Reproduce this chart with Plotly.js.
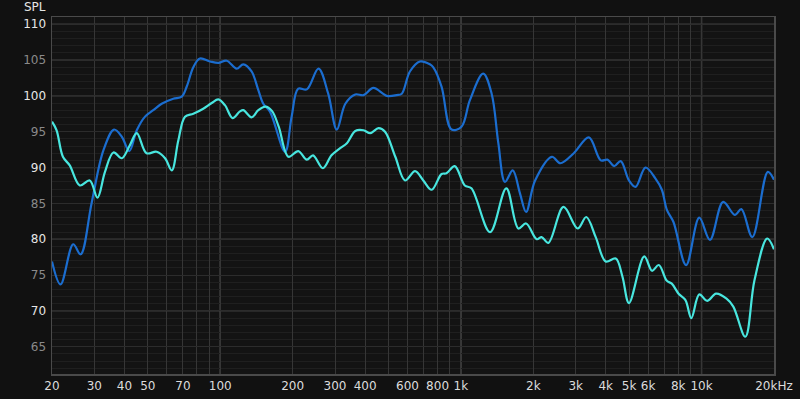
<!DOCTYPE html>
<html>
<head>
<meta charset="utf-8">
<script src="https://cdn.plot.ly/plotly-3.0.1.min.js"></script>
<style>
html,body{margin:0;padding:0;background:#111111;}
#chart{width:800px;height:399px;}
</style>
</head>
<body>
<div id="chart"></div>
<script>
// ---- data ----
var blueFreq = [20, 21.7, 24.5, 26.3, 29.2, 32.7, 36.2, 39, 41.9, 45, 48.7, 52.7, 57.1, 63.8, 69.2, 72.6, 77.3, 82.3, 90.7, 98.2, 106.4, 117, 124.7, 135, 144, 151, 161, 186, 198, 211, 229, 256, 281, 305, 331, 364, 394, 433, 492, 541, 568, 614, 676, 743, 767, 831, 914, 1006, 1090, 1238, 1342, 1431, 1525, 1642, 1760, 1866, 2034, 2388, 2590, 2945, 3402, 3812, 4064, 4333, 4615, 4992, 5318, 5846, 6426, 6840, 7176, 7644, 8626, 9784, 10832, 12296, 13746, 14640, 16250, 18852, 20000];
var blueSPL = [76.9, 73.7, 79.3, 77.9, 85.0, 92.4, 95.3, 94.3, 92.3, 95.2, 97.1, 98.0, 98.9, 99.6, 99.9, 101.3, 104.0, 105.2, 104.8, 104.6, 104.9, 103.8, 104.4, 103.4, 100.8, 98.9, 97.8, 92.2, 97.1, 101.0, 100.9, 103.8, 100.3, 95.3, 98.9, 100.2, 100.1, 101.1, 100.0, 100.1, 100.3, 103.4, 104.8, 104.4, 104.0, 101.3, 95.3, 95.7, 99.4, 103.1, 100.3, 93.4, 88.0, 89.6, 86.4, 83.8, 88.2, 91.5, 90.6, 92.0, 94.2, 91.0, 91.1, 90.2, 90.9, 88.2, 87.3, 90.0, 88.5, 86.9, 84.1, 82.4, 76.4, 83.0, 79.9, 85.2, 83.4, 84.2, 80.3, 89.4, 88.3];

var cyanFreq = [20, 20.9, 22.2, 23.7, 26.1, 28.7, 30.9, 33.2, 36, 39, 42.1, 45, 49.4, 54.4, 59, 62.9, 67, 71.4, 77.3, 85, 92.2, 98.2, 104.6, 112.5, 120.5, 124.7, 135, 144, 154, 164, 175, 192, 211, 229, 243, 267, 290, 315, 336, 364, 394, 420, 455, 484, 534, 586, 645, 698, 756, 831, 871, 943, 1038, 1106, 1322, 1544, 1733, 1866, 2066, 2165, 2310, 2670, 3058, 3318, 3633, 3997, 4400, 4690, 4992, 5780, 6226, 6643, 7176, 7522, 8028, 8573, 9067, 9784, 10546, 11490, 12700, 13550, 15200, 16600, 18740, 20000];
var cyanSPL = [96.4, 95.2, 91.5, 90.3, 87.5, 88.2, 85.8, 89.4, 92.1, 91.3, 93.1, 94.8, 92.0, 92.2, 91.3, 89.6, 93.8, 97.1, 97.5, 98.2, 99.0, 99.5, 98.7, 96.9, 97.8, 98.0, 97.0, 98.0, 98.5, 97.9, 95.7, 91.5, 92.3, 91.1, 91.7, 89.9, 91.7, 92.7, 93.4, 95.1, 95.2, 94.8, 95.5, 95.0, 91.5, 88.2, 89.5, 88.2, 86.9, 89.1, 89.2, 90.2, 87.5, 87.1, 81.0, 87.1, 81.5, 82.2, 80.0, 80.3, 79.5, 84.5, 81.5, 83.1, 80.3, 76.9, 77.3, 74.8, 71.1, 77.6, 75.6, 76.4, 74.2, 73.8, 72.4, 71.5, 69.0, 72.3, 71.4, 72.4, 71.7, 70.6, 66.4, 74.3, 80.1, 78.6];

var xGridVals = [20,30,40,50,60,70,80,90,100,200,300,400,500,600,700,800,900,1000,2000,3000,4000,5000,6000,7000,8000,9000,10000,20000];
var xTickLabels = ['20','30','40','50','','70','','','100','200','300','400','','600','','800','','1k','2k','3k','4k','5k','6k','','8k','','10k','20kHz'];
var xMajorVals = [100, 1000, 10000];

var yTickVals = [65,70,75,80,85,90,95,100,105,110];
var yTickLabels = ['65','70','75','80','85','90','95','100','105','110'];
var yMajorVals = [70, 80, 90, 100, 110];

// ---- build ----
var yTickText = yTickVals.map(function(v, i){
  var c = (v % 10 === 0) ? '#e6e6e6' : '#8a8a8a';
  return '<span style="color:' + c + '">' + yTickLabels[i] + '</span>';
});

var shapes = [];
xMajorVals.forEach(function(v){
  shapes.push({type:'line', xref:'x', yref:'paper', x0:v, x1:v, y0:0, y1:1,
    line:{color:'#5a5a5a', width:1.3}, layer:'below'});
});
yMajorVals.forEach(function(v){
  shapes.push({type:'line', xref:'paper', yref:'y', x0:0, x1:1, y0:v, y1:v,
    line:{color:'#3e3e3e', width:1.3}, layer:'below'});
});

var traces = [
  {x: blueFreq, y: blueSPL, type:'scatter', mode:'lines',
   line:{color:'#1b6dcf', width:2.2, shape:'spline', smoothing:1}, hoverinfo:'skip'},
  {x: cyanFreq, y: cyanSPL, type:'scatter', mode:'lines',
   line:{color:'#48e6df', width:2.2, shape:'spline', smoothing:1}, hoverinfo:'skip'}
];

var layout = {
  width: 800, height: 399,
  paper_bgcolor:'#111111', plot_bgcolor:'#131313',
  margin:{l:52, r:26, t:17, b:25, pad:0},
  showlegend:false,
  font:{family:'DejaVu Sans, Verdana, sans-serif', size:12, color:'#dcdcdc'},
  xaxis:{type:'log', range:[Math.log10(20), Math.log10(20000)],
    tickmode:'array', tickvals:xGridVals, ticktext:xTickLabels,
    showgrid:true, gridcolor:'#363636', gridwidth:1,
    ticks:'', showline:true, linecolor:'#4a4a4a', linewidth:1.5, mirror:true,
    zeroline:false, tickfont:{size:12, color:'#dcdcdc'}, fixedrange:true},
  yaxis:{range:[61.2, 111], tickmode:'array', tickvals:yTickVals, ticktext:yTickText,
    showgrid:true, gridcolor:'#2c2c2c', gridwidth:1.1,
    minor:{dtick:1, tick0:0, showgrid:true, gridcolor:'#1f1f1f', gridwidth:1, ticks:''},
    ticks:'', showline:true, linecolor:'#4a4a4a', linewidth:1.5, mirror:true,
    zeroline:false, tickfont:{size:12}, fixedrange:true, ticklabelstandoff:2},
  shapes: shapes,
  annotations:[{text:'SPL', xref:'paper', yref:'paper', x:0, y:1, xanchor:'right', yanchor:'bottom',
    yshift:1, xshift:-4, showarrow:false, font:{size:12, color:'#e6e6e6'}}]
};

Plotly.newPlot('chart', traces, layout, {staticPlot:true, displayModeBar:false});
</script>
</body>
</html>
